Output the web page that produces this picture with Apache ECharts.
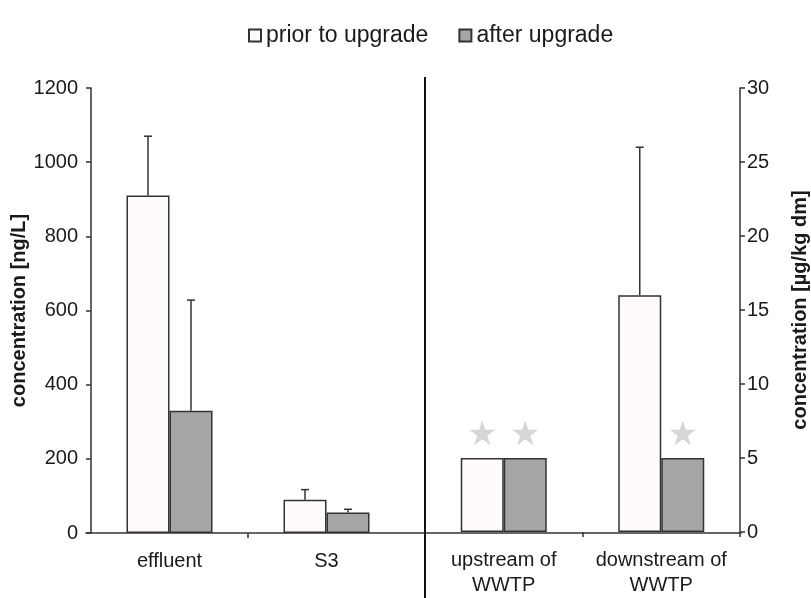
<!DOCTYPE html>
<html>
<head>
<meta charset="utf-8">
<script src="https://cdn.jsdelivr.net/npm/echarts@6/dist/echarts.min.js"></script>
<style>html,body{margin:0;padding:0;background:#fff;}#c{width:811px;height:598px;}</style>
</head>
<body>
<div id="c"></div>
<script>
// ---- data ----
const leftCategories = ['effluent', 'S3'];
const rightCategories = ['upstream of\nWWTP', 'downstream of\nWWTP'];
const seriesNames = ['prior to upgrade', 'after upgrade'];
// left panel, ng/L
const priorLeft = [910, 90];
const afterLeft = [330, 55];
const priorLeftErrTop = [1070, 117];
const afterLeftErrTop = [628, 64];
// right panel, µg/kg dm
const priorRight = [5, 16];
const afterRight = [5, 5];
const priorRightErrTop = [null, 26];
const afterRightErrTop = [null, null];
// star marks (values at/below detection limit)
const priorRightStar = [true, false];
const afterRightStar = [true, true];
// axis ticks
const leftAxisTicks = [0, 200, 400, 600, 800, 1000, 1200];
const rightAxisTicks = [0, 5, 10, 15, 20, 25, 30];

// ---- style ----
const FONT = 'Liberation Sans, Arial, sans-serif';
const TXT = '#1a1a1a';
const AX = '#333';
const BAR_W = 43;
const priorColor = '#fffafa';
const afterColor = '#a6a6a6';

function errData(tops, vals) {
  const out = [];
  tops.forEach((t, i) => { if (t != null) out.push([i, vals[i], t]); });
  return out;
}
function errRender(dir) {
  return function (params, api) {
    const c = api.value(0);
    const base = api.coord([c, api.value(1)]);
    const top = api.coord([c, api.value(2)]);
    const x = base[0] + dir * BAR_W / 2;
    const st = { stroke: AX, lineWidth: 1.5 };
    return {
      type: 'group',
      children: [
        { type: 'line', shape: { x1: x, y1: base[1], x2: x, y2: top[1] }, style: st },
        { type: 'line', shape: { x1: x - 4, y1: top[1], x2: x + 4, y2: top[1] }, style: st }
      ]
    };
  };
}
function starData(vals, flags) {
  return vals.map((v, i) => flags[i] ? {
    value: v,
    label: { show: true, position: 'top', distance: 5, formatter: '\u2605', color: '#d6d6d6', fontSize: 34, fontFamily: 'DejaVu Sans' }
  } : v);
}

const barStyle = (c) => ({ color: c, borderColor: AX, borderWidth: 1.5 });

const chart = echarts.init(document.getElementById('c'), null, { renderer: 'canvas' });
chart.setOption({
  animation: false,
  backgroundColor: '#fff',
  textStyle: { fontFamily: FONT },
  legend: {
    data: seriesNames,
    left: 243, top: 19,
    itemWidth: 12, itemHeight: 12, itemGap: 30,
    icon: 'rect',
    textStyle: { fontSize: 23, color: TXT, fontFamily: FONT }
  },
  grid: [
    { left: 91, top: 88, width: 314, height: 445 },
    { left: 425, top: 88, width: 316, height: 445 },
    { left: 86, top: 88, width: 655, height: 445 }
  ],
  xAxis: [
    { type: 'category', gridIndex: 0, data: leftCategories, position: 'bottom',
      axisLine: { show: false }, axisTick: { show: false },
      axisLabel: { interval: 0, color: TXT, fontSize: 20, margin: 16, lineHeight: 25, fontFamily: FONT } },
    { type: 'value', gridIndex: 0, min: 0, max: 2, interval: 1, position: 'bottom',
      axisLine: { show: false }, axisLabel: { show: false }, splitLine: { show: false },
      axisTick: { show: true, length: 5, customValues: [1], lineStyle: { color: AX, width: 1.5 } } },
    { type: 'category', gridIndex: 1, data: rightCategories, position: 'bottom',
      axisLine: { show: false },
      axisTick: { show: true, length: 5, lineStyle: { color: AX, width: 1.5 } },
      axisLabel: { interval: 0, color: TXT, fontSize: 20, margin: 16, lineHeight: 25, fontFamily: FONT } },
    { type: 'value', gridIndex: 2, min: 0, max: 1, position: 'bottom',
      axisLine: { show: true, lineStyle: { color: AX, width: 1.5 } },
      axisTick: { show: false }, axisLabel: { show: false }, splitLine: { show: false } }
  ],
  yAxis: [
    { type: 'value', gridIndex: 0, position: 'left', offset: 5,
      min: leftAxisTicks[0], max: leftAxisTicks[leftAxisTicks.length - 1],
      interval: leftAxisTicks[1] - leftAxisTicks[0],
      name: 'concentration [ng/L]', nameLocation: 'middle', nameRotate: 90, nameGap: 56,
      nameTextStyle: { fontSize: 20, fontWeight: 'bold', color: TXT, fontFamily: FONT },
      axisLine: { show: true, lineStyle: { color: AX, width: 1.5 } },
      axisTick: { show: true, length: 5, lineStyle: { color: AX, width: 1.5 } },
      axisLabel: { color: TXT, fontSize: 20, margin: 8, fontFamily: FONT, formatter: (v) => String(v) },
      splitLine: { show: false } },
    { type: 'value', gridIndex: 1, position: 'right',
      min: rightAxisTicks[0], max: rightAxisTicks[rightAxisTicks.length - 1],
      interval: rightAxisTicks[1] - rightAxisTicks[0],
      name: 'concentration [\u00b5g/kg dm]', nameLocation: 'middle', nameRotate: 90, nameGap: 50,
      nameTextStyle: { fontSize: 20, fontWeight: 'bold', color: TXT, fontFamily: FONT },
      axisLine: { show: true, lineStyle: { color: AX, width: 1.5 } },
      axisTick: { show: true, length: 5, lineStyle: { color: AX, width: 1.5 } },
      axisLabel: { color: TXT, fontSize: 20, margin: 7, fontFamily: FONT, formatter: (v) => String(v) },
      splitLine: { show: false } },
    { type: 'value', gridIndex: 2, show: false, min: 0, max: 1 }
  ],
  graphic: [
    { type: 'line', shape: { x1: 425, y1: 77, x2: 425, y2: 598 }, style: { stroke: '#111', lineWidth: 2 }, z: 10 }
  ],
  series: [
    { name: seriesNames[0], type: 'bar', xAxisIndex: 0, yAxisIndex: 0, data: priorLeft,
      barWidth: BAR_W, barGap: '0%', itemStyle: barStyle(priorColor) },
    { name: seriesNames[1], type: 'bar', xAxisIndex: 0, yAxisIndex: 0, data: afterLeft,
      barWidth: BAR_W, barGap: '0%', itemStyle: barStyle(afterColor) },
    { name: seriesNames[0], type: 'bar', xAxisIndex: 2, yAxisIndex: 1, data: starData(priorRight, priorRightStar),
      barWidth: BAR_W, barGap: '0%', itemStyle: barStyle(priorColor) },
    { name: seriesNames[1], type: 'bar', xAxisIndex: 2, yAxisIndex: 1, data: starData(afterRight, afterRightStar),
      barWidth: BAR_W, barGap: '0%', itemStyle: barStyle(afterColor) },
    { type: 'custom', xAxisIndex: 0, yAxisIndex: 0, renderItem: errRender(-1), data: errData(priorLeftErrTop, priorLeft), z: 5 },
    { type: 'custom', xAxisIndex: 0, yAxisIndex: 0, renderItem: errRender(1), data: errData(afterLeftErrTop, afterLeft), z: 5 },
    { type: 'custom', xAxisIndex: 2, yAxisIndex: 1, renderItem: errRender(-1), data: errData(priorRightErrTop, priorRight), z: 5 },
    { type: 'custom', xAxisIndex: 2, yAxisIndex: 1, renderItem: errRender(1), data: errData(afterRightErrTop, afterRight), z: 5 }
  ]
});
</script>
</body>
</html>
